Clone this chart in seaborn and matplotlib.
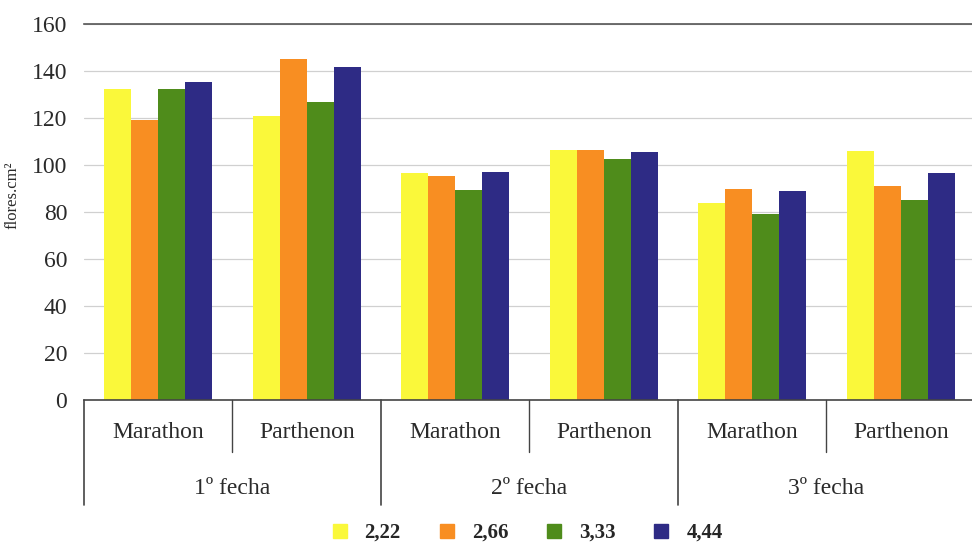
import pandas as pd
import matplotlib.pyplot as plt
import seaborn as sns
from matplotlib.lines import Line2D

# Data
fechas = ["1º fecha", "2º fecha", "3º fecha"]
cultivares = ["Marathon", "Parthenon"]
densidades = ["2,22", "2,66", "3,33", "4,44"]
v_222 = [132.5, 121, 96.5, 106.5, 84, 106]
v_266 = [119, 145, 95.5, 106.5, 90, 91]
v_333 = [132.5, 127, 89.5, 102.5, 79, 85]
v_444 = [135.5, 141.5, 97, 105.5, 89, 96.5]
colores = ["#FAF83A", "#F88E22", "#4F8C1B", "#2E2B85"]

# Long format
grupos = [f"{f}|{c}" for f in fechas for c in cultivares]
rows = []
for dens, vals in zip(densidades, [v_222, v_266, v_333, v_444]):
    for g, v in zip(grupos, vals):
        rows.append({"grupo": g, "densidad": dens, "flores": v})
df = pd.DataFrame(rows)

sns.set_style("white")
plt.rcParams["font.family"] = ["Liberation Serif", "DejaVu Serif"]

fig = plt.figure(figsize=(9.72, 5.45), dpi=100)
ax = fig.add_axes([84 / 972, 145 / 545, 888 / 972, 376 / 545])

sns.barplot(data=df, x="grupo", y="flores", hue="densidad", order=grupos,
            hue_order=densidades, palette=colores, width=0.73, saturation=1,
            errorbar=None, ax=ax, legend=False, linewidth=0)

ax.set_ylim(0, 160)
ax.set_xlim(-0.5, 5.48)
ax.set_yticks(range(0, 161, 20))
ax.yaxis.grid(True, color="#d0d0d0", linewidth=0.9)
ax.set_axisbelow(True)
ax.tick_params(axis="y", length=0, pad=12, labelsize=17, labelcolor="#2a2a2a")
ax.set_xticks([])
ax.set_xlabel("")
ax.set_ylabel("flores.cm²", fontsize=12, color="#2a2a2a")
ax.yaxis.set_label_coords(-0.072, 0.545)

for s in ["left", "right"]:
    ax.spines[s].set_visible(False)
ax.spines["top"].set_color("#555555")
ax.spines["bottom"].set_color("#444444")
ax.spines["top"].set_linewidth(1.2)
ax.spines["bottom"].set_linewidth(1.2)

# Category table under the axis
tr = ax.get_xaxis_transform()
y_sub = -52 / 376
y_grp = -105 / 376
for i, g in enumerate(grupos):
    ax.text(i, -32 / 376, g.split("|")[1], transform=tr, ha="center", va="center",
            fontsize=17, color="#2a2a2a")
for k, f in enumerate(fechas):
    ax.text(2 * k + 0.5, -88 / 376, f, transform=tr, ha="center", va="center",
            fontsize=17, color="#2a2a2a")
for xpos in [-0.5, 1.5, 3.5]:
    ax.add_line(Line2D([xpos, xpos], [0, y_grp], transform=tr, color="#444444",
                       linewidth=1.2, clip_on=False))
for xpos in [0.5, 2.5, 4.5]:
    ax.add_line(Line2D([xpos, xpos], [0, y_sub], transform=tr, color="#444444",
                       linewidth=1.0, clip_on=False))

# Legend
handles = [Line2D([], [], marker="s", linestyle="", markersize=10,
                  markerfacecolor=c, markeredgecolor=c) for c in colores]
fig.legend(handles, densidades, loc="center", bbox_to_anchor=(0.540, 12 / 545),
           ncol=4, frameon=False, prop={"weight": "bold", "size": 15},
           handletextpad=0.6, columnspacing=1.6, handlelength=1.2,
           borderpad=0)

fig.savefig("out.png", dpi=100)
